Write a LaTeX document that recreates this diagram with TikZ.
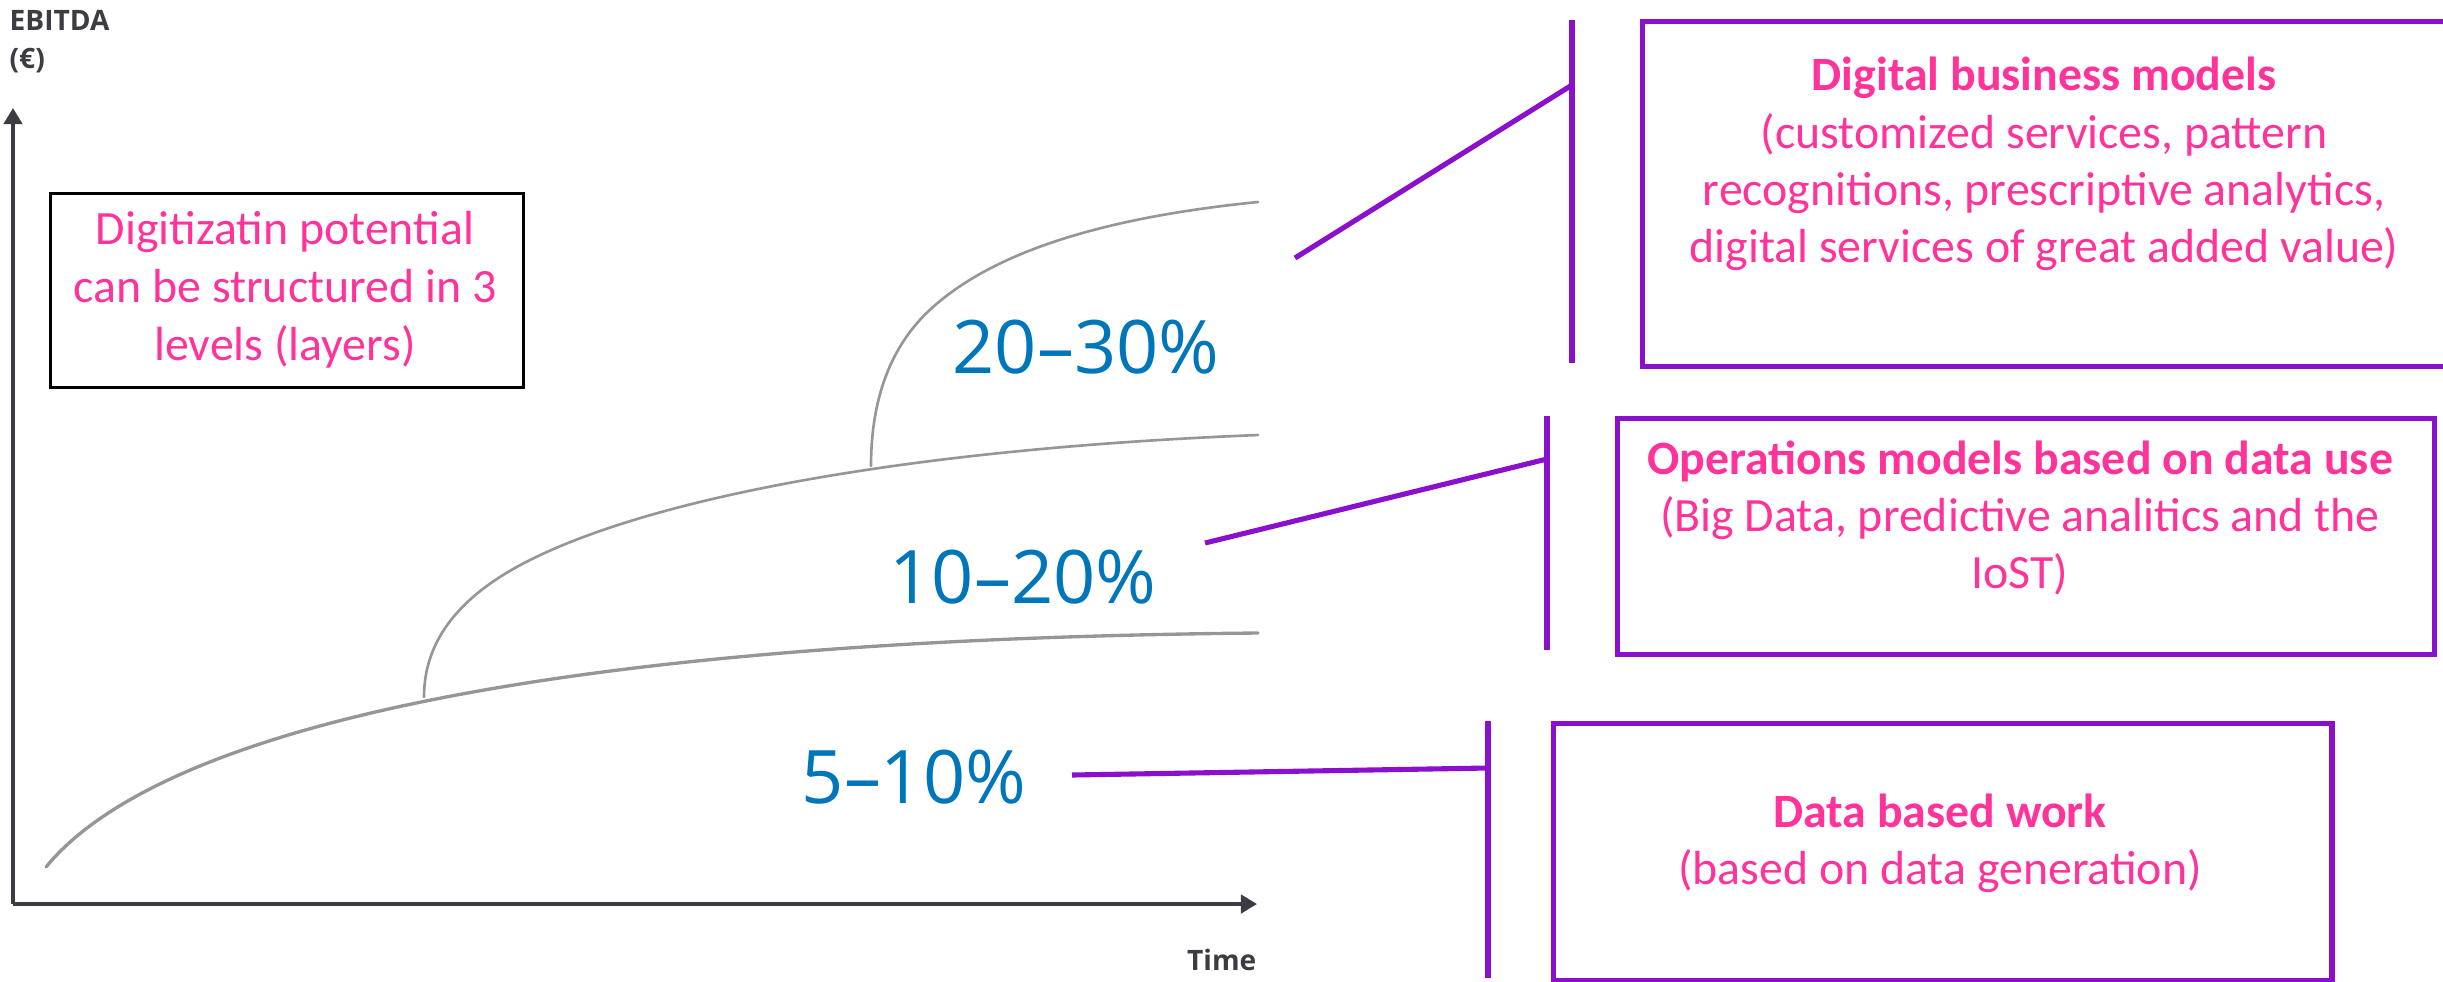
\documentclass[tikz,border=0pt]{standalone}
\usepackage{fontspec}
\setmainfont{Carlito}
\newfontfamily\osans{Open Sans}
\usetikzlibrary{arrows.meta}

\definecolor{labelpink}{RGB}{255,51,153}
\definecolor{linkpurple}{RGB}{138,16,204}
\definecolor{pctblue}{RGB}{0,118,186}
\definecolor{curvegray}{RGB}{150,150,153}
\definecolor{axisgray}{RGB}{60,60,66}

\tikzset{
  axisline/.style={draw=axisgray, line width=1.2pt,
    -{Triangle[width=5.2pt,length=4.6pt]}},
  axislabel/.style={font=\osans\bfseries\fontsize{8}{9}\selectfont, text=axisgray, inner sep=0pt},
  growth/.style={draw=curvegray, line width=0.95pt, line cap=round},
  branch/.style={draw=curvegray, line width=0.75pt, line cap=round},
  pct/.style={font=\osans\fontsize{21}{25}\selectfont, text=pctblue, inner sep=0pt},
  link/.style={draw=linkpurple, line width=1.45pt},
  layerbox/.style={draw=linkpurple, line width=1.45pt, rectangle, inner sep=0pt},
  layertext/.style={text=labelpink, align=center, inner sep=0pt,
    font=\fontsize{13.6}{16.3}\selectfont},
  notebox/.style={draw=black, line width=0.9pt, rectangle, inner sep=0pt},
  notetext/.style={text=labelpink, align=center, inner sep=0pt,
    font=\fontsize{13.6}{16.5}\selectfont}
}

\begin{document}
\begin{tikzpicture}[x=0.01cm, y=-0.01cm]
\useasboundingbox (0,0) rectangle (2443,981);
\clip (0,0) rectangle (2443,981);

% axes
\coordinate (origin) at (13,904);
\coordinate (ytop) at (13,108);
\coordinate (xend) at (1257,904);
\draw[axisline] (origin) -- (ytop);
\draw[axisline] (origin) -- (xend);
\node[axislabel, anchor=base west] (ebitda) at (9,30) {EBITDA};
\node[axislabel, anchor=base west] (euro) at (9,68) {(€)};
\node[axislabel, anchor=base east] (time) at (1257,970) {Time};

% three growth layers
\coordinate (fork1) at (424,697);
\coordinate (fork2) at (871,466);
\draw[growth] (46,867) .. controls (150,740) and (500,640) .. (1258,633);
\draw[branch] (fork1) .. controls (424,640) and (460,595) .. (530,560)
  .. controls (656,497) and (908,449) .. (1258,435);
\draw[branch] (fork2) .. controls (871,400) and (890,345) .. (933,307)
  .. controls (997,250) and (1108,217) .. (1258,202);

% percentage bands
\node[pct, anchor=base] (p3) at (1086,373) {20–30\%};
\node[pct, anchor=base] (p2) at (1023,603) {10–20\%};
\node[pct, anchor=base] (p1) at (914,803) {5–10\%};

% note box
\node[notebox, anchor=north west, minimum width=4.73cm, minimum height=1.94cm]
  (note) at (49,192) {};
\node[notetext] (notetxt) at (285,290)
  {Digitizatin potential\\can be structured in 3\\levels (layers)};

% layer boxes
\node[layerbox, anchor=north west, minimum width=8.08cm, minimum height=3.45cm]
  (dbm) at (1640,19) {};
\node[layertext] (dbmtxt) at (2044,164)
  {\textbf{Digital business models}\\(customized services, pattern\\recognitions, prescriptive analytics,\\digital services of great added value)};

\node[layerbox, anchor=north west, minimum width=8.16cm, minimum height=2.36cm]
  (opm) at (1615,416) {};
\node[layertext] (opmtxt) at (2020,518)
  {\textbf{Operations models based on data use}\\(Big Data, predictive analitics and the\\IoST)};

\node[layerbox, anchor=north west, minimum width=7.78cm, minimum height=2.57cm]
  (dbw) at (1551,721) {};
\node[layertext] (dbwtxt) at (1940,843)
  {\textbf{Data based work}\\(based on data generation)};

% brackets and leader lines
\coordinate (b3top) at (1572,20);
\coordinate (b3bot) at (1572,363);
\coordinate (b3mid) at (1572,85);
\coordinate (l3) at (1295,258);
\draw[link] (b3top) -- (b3bot);
\draw[link] (l3) -- (b3mid);

\coordinate (b2top) at (1547,416);
\coordinate (b2bot) at (1547,650);
\coordinate (b2mid) at (1547,459);
\coordinate (l2) at (1205,543);
\draw[link] (b2top) -- (b2bot);
\draw[link] (l2) -- (b2mid);

\coordinate (b1top) at (1488,721);
\coordinate (b1bot) at (1488,978);
\coordinate (b1mid) at (1488,768);
\coordinate (l1) at (1072,775);
\draw[link] (b1top) -- (b1bot);
\draw[link] (l1) -- (b1mid);
\end{tikzpicture}
\end{document}
